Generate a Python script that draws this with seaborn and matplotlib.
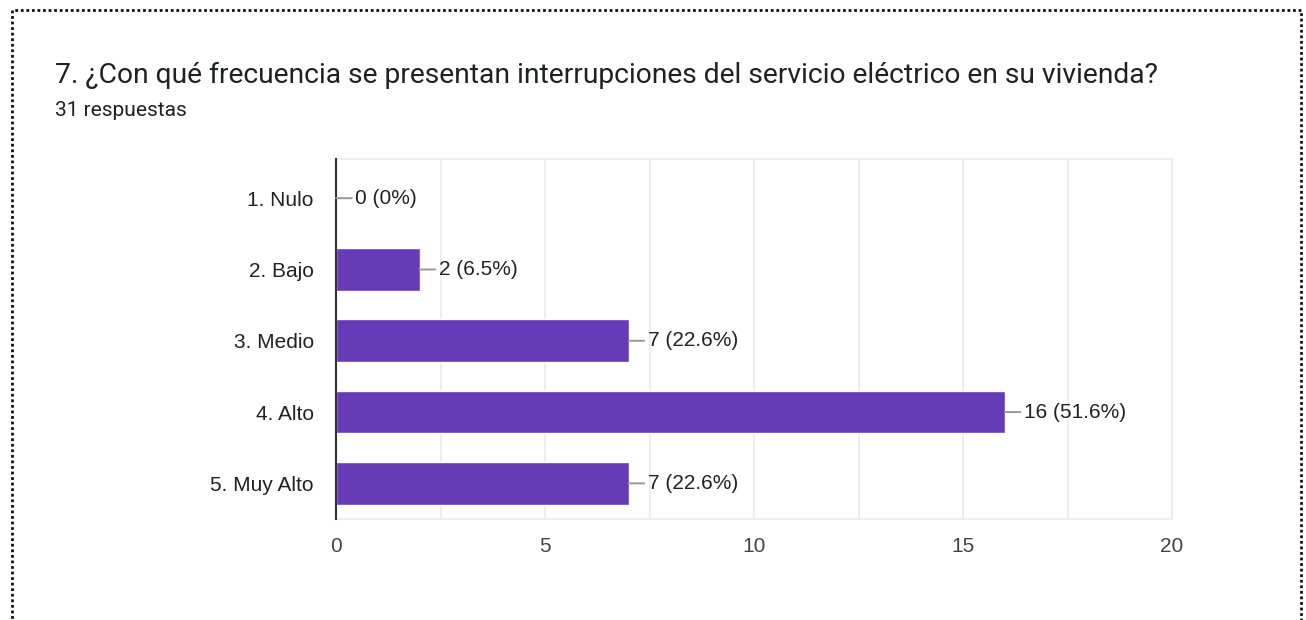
import matplotlib
matplotlib.use("Agg")
import matplotlib.pyplot as plt
import matplotlib.patches as mpatches
import seaborn as sns
import pandas as pd

categories = ["1. Nulo", "2. Bajo", "3. Medio", "4. Alto", "5. Muy Alto"]
counts = [0, 2, 7, 16, 7]
total_responses = 31
title = "7. ¿Con qué frecuencia se presentan interrupciones del servicio eléctrico en su vivienda?"
subtitle = f"{total_responses} respuestas"
x_ticks = [0, 5, 10, 15, 20]

sns.set_style("white")
plt.rcParams["font.family"] = ["Liberation Sans", "DejaVu Sans"]
head_font = ["Roboto", "DejaVu Sans"]

df = pd.DataFrame({"categoria": categories, "respuestas": counts})

fig = plt.figure(figsize=(13.06, 6.2), dpi=100)
ax = fig.add_axes([336 / 1306, 1 - 519 / 620, (1172 - 336) / 1306, (519 - 159) / 620])

sns.barplot(data=df, x="respuestas", y="categoria", orient="h", color="#673AB7",
            saturation=1, width=0.6, ax=ax, zorder=3)

ax.set_xlim(0, 20)
ax.set_ylim(4.5, -0.55)
ax.set_xticks(x_ticks)
ax.set_xticks([2.5, 7.5, 12.5, 17.5], minor=True)
ax.grid(axis="x", which="both", color="#ebebeb", linewidth=1.2, zorder=0)
ax.set_xlabel("")
ax.set_ylabel("")

for side in ["top", "right", "bottom"]:
    ax.spines[side].set_color("#ebebeb")
    ax.spines[side].set_linewidth(1.2)
ax.spines["left"].set_color("#333333")
ax.spines["left"].set_linewidth(1.5)
ax.spines["left"].set_zorder(5)

ax.tick_params(axis="y", length=0, pad=16, labelsize=15, labelcolor="#222222")
ax.tick_params(axis="x", which="both", length=0, pad=13, labelsize=15, labelcolor="#444444")

for i, v in enumerate(counts):
    pct = 100 * v / total_responses
    pct_txt = f"{pct:.1f}".rstrip("0").rstrip(".")
    ax.annotate(f"{v} ({pct_txt}%)", xy=(v, i), xytext=(19, 0), textcoords="offset pixels",
                ha="left", va="center", fontsize=15, color="#222222",
                arrowprops=dict(arrowstyle="-", color="#999999", lw=1.4,
                                shrinkA=0, shrinkB=0, relpos=(0, 0.5)),
                zorder=6)

fig.text(55 / 1306, 1 - 75 / 620, title, fontsize=20.3, color="#202124",
         ha="left", va="center", family=head_font)
fig.text(55 / 1306, 1 - 111 / 620, subtitle, fontsize=15, color="#202124",
         ha="left", va="center", family=head_font)

border = mpatches.Rectangle((12 / 1306, -0.05), (1301 - 12) / 1306, 1 - 10 / 620 + 0.05,
                            transform=fig.transFigure, fill=False, edgecolor="#111111",
                            linewidth=2, linestyle=(0, (1, 1)), clip_on=False)
fig.patches.append(border)

fig.savefig("out.png", dpi=100, facecolor="white")
